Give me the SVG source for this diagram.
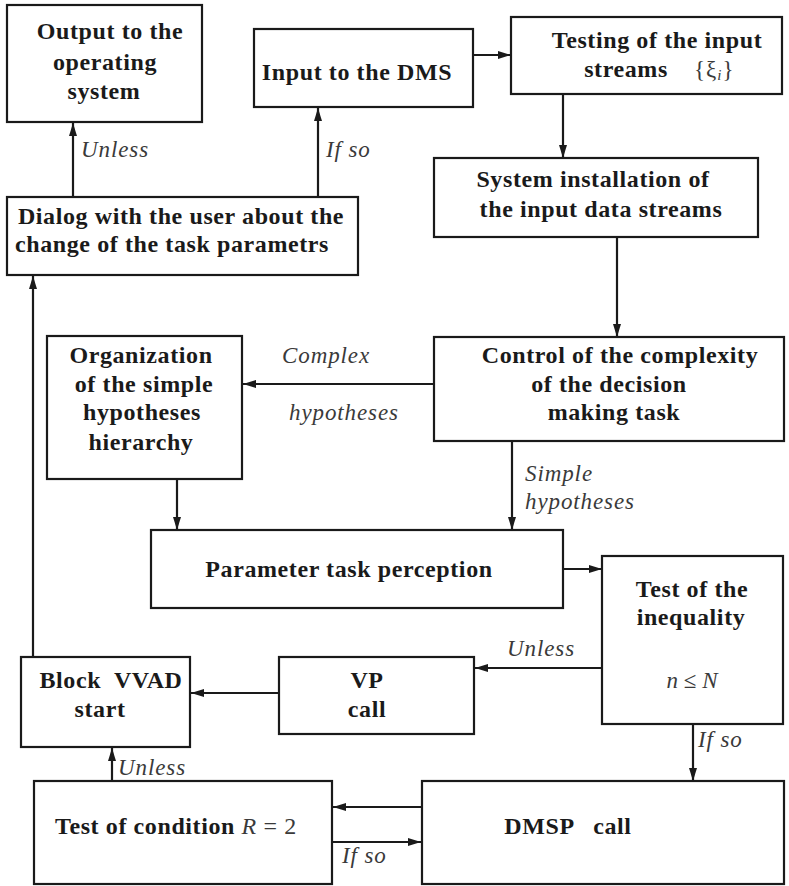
<svg xmlns="http://www.w3.org/2000/svg" width="789" height="886" viewBox="0 0 789 886">
  <style>
    .box { fill: #ffffff; stroke: #1a1a1a; stroke-width: 2.2; }
    .t { font-family: "Liberation Serif", "Times New Roman", serif; font-weight: bold; font-size: 24px; letter-spacing: 0.6px; fill: #1a1a1a; text-anchor: middle; }
    .lbl { font-family: "Liberation Serif", "Times New Roman", serif; font-style: italic; font-size: 23px; letter-spacing: 0.9px; fill: #3a3a3a; }
    .math { font-family: "Liberation Serif", "Times New Roman", serif; font-weight: normal; fill: #3a3a3a; }
    .edge { fill: none; stroke: #1a1a1a; stroke-width: 2.2; marker-end: url(#arrow); }
  </style>
  <defs>
    <marker id="arrow" viewBox="0 0 13 8" refX="13" refY="4" markerWidth="13" markerHeight="8" markerUnits="userSpaceOnUse" orient="auto">
      <path d="M0,0 L13,4 L0,8 z" fill="#1a1a1a"/>
    </marker>
  </defs>
  <rect width="789" height="886" fill="#ffffff"/>

  <!-- connectors and their branch labels -->
  <g id="connectors">
    <line class="edge" x1="73" y1="197" x2="73" y2="123"/>
    <line class="edge" x1="318" y1="197" x2="318" y2="108"/>
    <line class="edge" x1="473" y1="55" x2="511" y2="55"/>
    <line class="edge" x1="563" y1="94" x2="563" y2="158"/>
    <line class="edge" x1="617" y1="237" x2="617" y2="337"/>
    <line class="edge" x1="434" y1="384" x2="243" y2="384"/>
    <line class="edge" x1="177" y1="479" x2="177" y2="530"/>
    <line class="edge" x1="512" y1="441" x2="512" y2="530"/>
    <line class="edge" x1="563" y1="569" x2="602" y2="569"/>
    <line class="edge" x1="602" y1="668" x2="475" y2="668"/>
    <line class="edge" x1="279" y1="693" x2="191" y2="693"/>
    <line class="edge" x1="33" y1="657" x2="33" y2="276"/>
    <line class="edge" x1="112" y1="781" x2="112" y2="748"/>
    <line class="edge" x1="693" y1="724" x2="693" y2="781"/>
    <line class="edge" x1="422" y1="807" x2="333" y2="807"/>
    <line class="edge" x1="332" y1="842" x2="421" y2="842"/>

    <text class="lbl" x="81" y="157">Unless</text>
    <text class="lbl" x="326" y="157">If so</text>
    <text class="lbl" x="282" y="363">Complex</text>
    <text class="lbl" x="289" y="420">hypotheses</text>
    <text class="lbl" x="525" y="481">Simple</text>
    <text class="lbl" x="525" y="509">hypotheses</text>
    <text class="lbl" x="507" y="656">Unless</text>
    <text class="lbl" x="698" y="747">If so</text>
    <text class="lbl" x="118" y="775">Unless</text>
    <text class="lbl" x="342" y="863">If so</text>
  </g>

  <g id="output-os">
    <rect class="box" x="7" y="5" width="195" height="117"/>
    <text class="t" x="110" y="39">Output to the</text>
    <text class="t" x="105" y="70">operating</text>
    <text class="t" x="104" y="99">system</text>
  </g>

  <g id="input-dms">
    <rect class="box" x="254" y="29" width="219" height="78"/>
    <text class="t" x="357" y="80">Input to the DMS</text>
  </g>

  <g id="testing-streams">
    <rect class="box" x="511" y="17" width="271" height="77"/>
    <text class="t" x="657" y="48">Testing of the input</text>
    <text class="t" x="626" y="77">streams</text>
    <text class="math" x="694" y="77" font-size="23" letter-spacing="1">{ξ<tspan font-style="italic" font-size="15" dy="3">i</tspan><tspan dy="-3">}</tspan></text>
  </g>

  <g id="system-installation">
    <rect class="box" x="434" y="158" width="324" height="79"/>
    <text class="t" x="593" y="187">System installation of</text>
    <text class="t" x="601" y="217">the input data streams</text>
  </g>

  <g id="dialog">
    <rect class="box" x="7" y="197" width="351" height="78"/>
    <text class="t" x="181" y="224">Dialog with the user about the</text>
    <text class="t" x="172" y="252">change of the task parametrs</text>
  </g>

  <g id="complexity-control">
    <rect class="box" x="434" y="337" width="350" height="104"/>
    <text class="t" x="620" y="363">Control of the complexity</text>
    <text class="t" x="609" y="392">of the decision</text>
    <text class="t" x="614" y="420">making task</text>
  </g>

  <g id="organization">
    <rect class="box" x="47" y="336" width="195" height="143"/>
    <text class="t" x="141" y="363">Organization</text>
    <text class="t" x="144" y="392">of the simple</text>
    <text class="t" x="142" y="420">hypotheses</text>
    <text class="t" x="141" y="450">hierarchy</text>
  </g>

  <g id="parameter-perception">
    <rect class="box" x="151" y="530" width="412" height="78"/>
    <text class="t" x="349" y="577">Parameter task perception</text>
  </g>

  <g id="inequality-test">
    <rect class="box" x="602" y="556" width="181" height="168"/>
    <text class="t" x="692" y="597">Test of the</text>
    <text class="t" x="691" y="625">inequality</text>
    <text class="math" x="692" y="688" font-size="23" text-anchor="middle"><tspan font-style="italic">n</tspan> ≤ <tspan font-style="italic">N</tspan></text>
  </g>

  <g id="vp-call">
    <rect class="box" x="279" y="657" width="195" height="77"/>
    <text class="t" x="367" y="688">VP</text>
    <text class="t" x="367" y="717">call</text>
  </g>

  <g id="vvad-start">
    <rect class="box" x="21" y="657" width="169" height="90"/>
    <text class="t" x="111" y="688" xml:space="preserve">Block  VVAD</text>
    <text class="t" x="100" y="717">start</text>
  </g>

  <g id="condition-test">
    <rect class="box" x="34" y="781" width="298" height="103"/>
    <text class="t" x="55" y="834" style="text-anchor:start">Test of condition <tspan font-weight="normal" font-style="italic" fill="#3a3a3a">R</tspan><tspan font-weight="normal" fill="#3a3a3a"> = 2</tspan></text>
  </g>

  <g id="dmsp-call">
    <rect class="box" x="422" y="781" width="362" height="103"/>
    <text class="t" x="568" y="834" xml:space="preserve">DMSP   call</text>
  </g>
</svg>
